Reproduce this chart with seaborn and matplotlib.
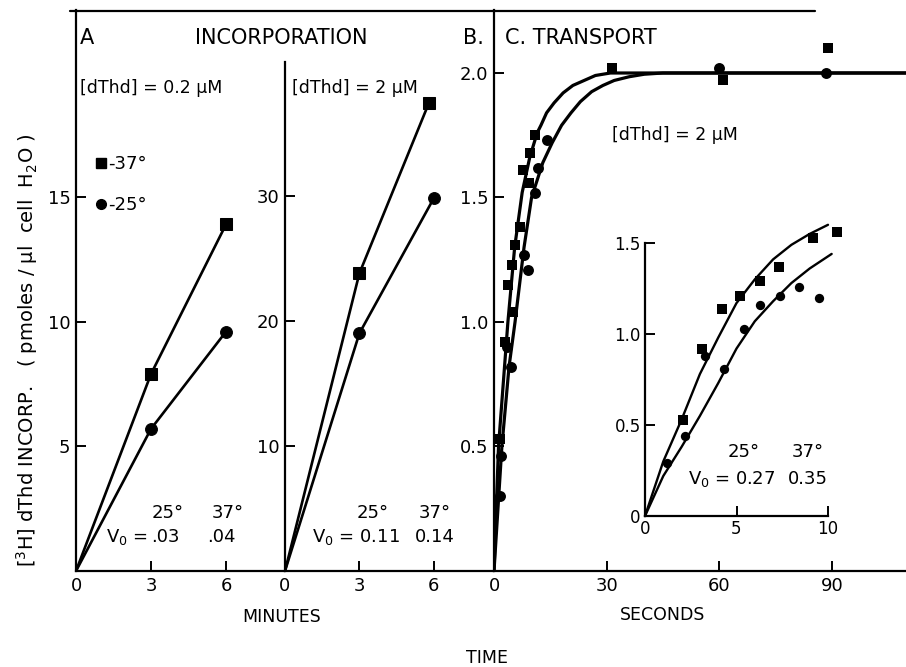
import numpy as np
import pandas as pd
import matplotlib
matplotlib.use("Agg")
import matplotlib.pyplot as plt
from matplotlib.lines import Line2D
import seaborn as sns

# ---------------- data ----------------
# Panel A: [dThd] = 0.2 uM
a_minutes = [0, 3, 6]
a_37 = [0, 7.9, 13.9]
a_25 = [0, 5.7, 9.6]
# Panel B: [dThd] = 2 uM
b_minutes_37 = [0, 3, 5.8]
b_minutes_25 = [0, 3, 6]
b_37 = [0, 23.8, 37.4]
b_25 = [0, 19.0, 29.8]
# Panel C: transport (seconds)
c37_t = [1.6, 2.9, 3.8, 4.8, 5.0, 5.6, 6.9, 7.7, 9.3, 9.6, 10.9, 31.4, 61.0, 89.0]
c37_v = [0.53, 0.92, 1.15, 1.23, 1.04, 1.31, 1.38, 1.61, 1.56, 1.68, 1.75, 2.02, 1.97, 2.10]
c25_t = [1.6, 1.9, 3.5, 4.5, 8.0, 9.1, 10.9, 11.7, 14.0, 60.0, 88.4]
c25_v = [0.30, 0.46, 0.90, 0.82, 1.27, 1.21, 1.52, 1.62, 1.73, 2.02, 2.00]
# fitted curves, panel C
fit37_t = [0, 1.2, 3.7, 5.5, 7.5, 9.5, 11.5, 12.5, 14, 16, 18.4, 21, 24, 27, 31, 110]
fit37_v = [0, 0.5, 1.0, 1.3, 1.52, 1.66, 1.76, 1.79, 1.84, 1.88, 1.92, 1.95, 1.97, 1.99, 2.0, 2.0]
fit25_t = [0, 2.1, 4.0, 5.6, 8.0, 10.0, 13.0, 15.5, 18.0, 20.5, 23.0, 26.0, 29.0, 32.0, 36.0, 40.0, 45.0, 110]
fit25_v = [0, 0.5, 0.82, 1.0, 1.3, 1.5, 1.64, 1.72, 1.79, 1.84, 1.885, 1.925, 1.95, 1.97, 1.985, 1.995, 2.0, 2.0]
# Inset: first 10 seconds
i37_t = [2.1, 3.1, 4.2, 5.2, 6.3, 7.3, 9.2, 10.5]
i37_v = [0.53, 0.92, 1.14, 1.21, 1.29, 1.37, 1.53, 1.56]
i25_t = [1.2, 2.2, 3.3, 4.3, 5.4, 6.3, 7.4, 8.4, 9.5]
i25_v = [0.29, 0.44, 0.88, 0.81, 1.03, 1.16, 1.21, 1.26, 1.20]
ifit37_t = [0, 1, 2, 3, 4, 5, 6, 7, 8, 9, 10]
ifit37_v = [0, 0.3, 0.53, 0.78, 0.98, 1.17, 1.3, 1.41, 1.49, 1.55, 1.6]
ifit25_t = [0, 1, 2, 3, 4, 5, 6, 7, 8, 9, 10.2]
ifit25_v = [0, 0.22, 0.38, 0.55, 0.73, 0.92, 1.07, 1.18, 1.28, 1.36, 1.44]

# ---------------- style ----------------
sns.set_style("ticks")
plt.rcParams['font.family'] = ['DejaVu Sans']
plt.rcParams['mathtext.fontset'] = 'dejavusans'
plt.rcParams['text.color'] = 'k'
plt.rcParams['axes.labelcolor'] = 'k'
plt.rcParams['xtick.color'] = 'k'
plt.rcParams['ytick.color'] = 'k'

W, H = 906, 667
fig = plt.figure(figsize=(W / 100, H / 100), dpi=100)


def rect(l, t, r, b):
    return [l / W, 1 - b / H, (r - l) / W, (b - t) / H]


def fx(px):
    return px / W


def fy(py):
    return 1 - py / H


axA = fig.add_axes(rect(76, 10, 284, 571))
axB = fig.add_axes(rect(285, 62, 493, 571))
axC = fig.add_axes(rect(494, 10, 906, 571))
axI = fig.add_axes(rect(645, 243, 828, 516))

for ax in (axA, axB, axC, axI):
    ax.set_facecolor('none')
    for s in ('top', 'right'):
        ax.spines[s].set_visible(False)
    for s in ('left', 'bottom'):
        ax.spines[s].set_linewidth(1.6)
        ax.spines[s].set_color('k')
    ax.tick_params(direction='in', length=7, width=1.4, colors='k',
                   labelcolor='k', labelsize=13, pad=4)

lw = 1.9
# Panel A
sns.lineplot(x=a_minutes, y=a_37, ax=axA, color='k', lw=lw, marker='s',
             markersize=8.5, markeredgecolor='k', estimator=None, sort=False)
sns.lineplot(x=a_minutes, y=a_25, ax=axA, color='k', lw=lw, marker='o',
             markersize=8.5, markeredgecolor='k', estimator=None, sort=False)
axA.set_xlim(0, 8.32)
axA.set_ylim(0, 22.5)
axA.set_xticks([0, 3, 6])
axA.set_yticks([5, 10, 15])

# Panel B
sns.lineplot(x=b_minutes_37, y=b_37, ax=axB, color='k', lw=lw, marker='s',
             markersize=8.5, markeredgecolor='k', estimator=None, sort=False)
sns.lineplot(x=b_minutes_25, y=b_25, ax=axB, color='k', lw=lw, marker='o',
             markersize=8.5, markeredgecolor='k', estimator=None, sort=False)
axB.set_xlim(0, 8.39)
axB.set_ylim(0, 40.7)
axB.set_xticks([0, 3, 6])
axB.set_yticks([10, 20, 30])

# the origin is only the start of the lines, without a marker
for ax in (axA, axB):
    for ln in ax.get_lines():
        ln.set_markevery([1, 2])

# Panel C
sns.lineplot(x=fit37_t, y=fit37_v, ax=axC, color='k', lw=2.3,
             estimator=None, sort=False)
sns.lineplot(x=fit25_t, y=fit25_v, ax=axC, color='k', lw=2.3,
             estimator=None, sort=False)
sns.scatterplot(x=c37_t, y=c37_v, ax=axC, color='k', marker='s', s=62,
                edgecolor='k', linewidth=0, clip_on=False, zorder=3)
sns.scatterplot(x=c25_t, y=c25_v, ax=axC, color='k', marker='o', s=62,
                edgecolor='k', linewidth=0, clip_on=False, zorder=3)
axC.set_xlim(0, 109.7)
axC.set_ylim(0, 2.253)
axC.set_xticks([0, 30, 60, 90])
axC.set_yticks([0.5, 1.0, 1.5, 2.0])
axC.set_yticklabels(['0.5', '1.0', '1.5', '2.0'])

# Inset
sns.lineplot(x=ifit37_t, y=ifit37_v, ax=axI, color='k', lw=1.7,
             estimator=None, sort=False)
sns.lineplot(x=ifit25_t, y=ifit25_v, ax=axI, color='k', lw=1.7,
             estimator=None, sort=False)
for ln in axI.get_lines():
    ln.set_clip_on(False)
sns.scatterplot(x=i37_t, y=i37_v, ax=axI, color='k', marker='s', s=45,
                edgecolor='k', linewidth=0, clip_on=False, zorder=3)
sns.scatterplot(x=i25_t, y=i25_v, ax=axI, color='k', marker='o', s=45,
                edgecolor='k', linewidth=0, clip_on=False, zorder=3)
axI.set_xlim(0, 10)
axI.set_ylim(0, 1.5)
axI.set_xticks([0, 5, 10])
axI.set_yticks([0, 0.5, 1.0, 1.5])
axI.set_yticklabels(['0', '0.5', '1.0', '1.5'])
axI.tick_params(labelsize=12, pad=3)

for ax in (axA, axB, axC, axI):
    ax.set_xlabel('')
    ax.set_ylabel('')
    leg = ax.get_legend()
    if leg is not None:
        leg.remove()

# Legend in panel A
handles = [Line2D([], [], marker='s', color='k', ls='none', markersize=7),
           Line2D([], [], marker='o', color='k', ls='none', markersize=7)]
axA.legend(handles, ['-37°', '-25°'], loc='upper left',
           bbox_to_anchor=(fx(94), fy(155)), bbox_transform=fig.transFigure,
           frameon=False, fontsize=13, handlelength=0.8, handletextpad=0.0,
           labelspacing=1.3, borderpad=0, borderaxespad=0)

# top frame line
fig.add_artist(Line2D([fx(70), fx(815)], [fy(11), fy(11)], color='k', lw=1.6))

# Texts
tsz = 15
fig.text(fx(80), fy(38), 'A', fontsize=tsz, va='center', ha='left')
fig.text(fx(281), fy(38), 'INCORPORATION', fontsize=tsz, va='center', ha='center')
fig.text(fx(463), fy(38), 'B.', fontsize=tsz, va='center', ha='left')
fig.text(fx(505), fy(38), 'C. TRANSPORT', fontsize=tsz, va='center', ha='left')

fig.text(fx(80), fy(88), '[dThd] = 0.2 µM', fontsize=12.5, va='center', ha='left')
fig.text(fx(292), fy(88), '[dThd] = 2 µM', fontsize=12.5, va='center', ha='left')
fig.text(fx(612), fy(135), '[dThd] = 2 µM', fontsize=12.5, va='center', ha='left')

ksz = 13
# panel A rates
fig.text(fx(168), fy(513), '25°', fontsize=ksz, va='center', ha='center')
fig.text(fx(228), fy(513), '37°', fontsize=ksz, va='center', ha='center')
fig.text(fx(106), fy(537), 'V$_0$ =', fontsize=ksz, va='center', ha='left')
fig.text(fx(165), fy(537), '.03', fontsize=ksz, va='center', ha='center')
fig.text(fx(221), fy(537), '.04', fontsize=ksz, va='center', ha='center')
# panel B rates
fig.text(fx(373), fy(513), '25°', fontsize=ksz, va='center', ha='center')
fig.text(fx(435), fy(513), '37°', fontsize=ksz, va='center', ha='center')
fig.text(fx(312), fy(537), 'V$_0$ = 0.11', fontsize=ksz, va='center', ha='left')
fig.text(fx(435), fy(537), '0.14', fontsize=ksz, va='center', ha='center')
# inset rates
fig.text(fx(744), fy(452), '25°', fontsize=ksz, va='center', ha='center')
fig.text(fx(808), fy(452), '37°', fontsize=ksz, va='center', ha='center')
fig.text(fx(688), fy(479), 'V$_0$ = 0.27', fontsize=ksz, va='center', ha='left')
fig.text(fx(808), fy(479), '0.35', fontsize=ksz, va='center', ha='center')

# axis labels
fig.text(fx(282), fy(617), 'MINUTES', fontsize=12.5, va='center', ha='center')
fig.text(fx(663), fy(615), 'SECONDS', fontsize=12.5, va='center', ha='center')
fig.text(fx(487), fy(658), 'TIME', fontsize=12.5, va='center', ha='center')
fig.text(fx(27), fy(350),
         r'$\left[^{3}\mathrm{H}\right]$ dThd INCORP.   ( pmoles / µl  cell  H$_2$O )',
         fontsize=14, rotation=90, va='center', ha='center')

fig.savefig('out.png', dpi=100)
